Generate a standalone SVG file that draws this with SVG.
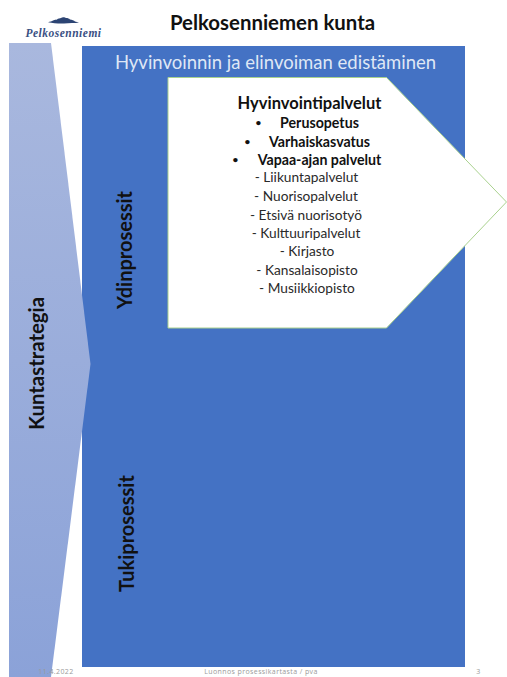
<svg xmlns="http://www.w3.org/2000/svg" width="507" height="677" viewBox="0 0 507 677">
<style>
text{font-family:Lato,"Liberation Sans",sans-serif;text-anchor:middle;fill:#111}
.b{font-weight:700}
.l{font-size:13.7px;fill:#2a2a2a}
.h{font-size:14.2px;font-weight:700}
.d{font-size:10px;font-weight:700}
.v{font-size:20px;font-weight:700}
.f{font-size:7px;fill:#9a9a9a;letter-spacing:.4px;font-family:"Open Sans",sans-serif}
</style>
<defs><linearGradient id="g" x1="0" y1="0" x2="0" y2="1"><stop offset="0" stop-color="#a9b8de"/><stop offset="1" stop-color="#8ba2d8"/></linearGradient></defs>
<rect width="507" height="677" fill="#fff"/>
<g id="logo">
<path d="M48 22.300C50 21.500 52 21.500 53 20.500C55 19.500 56 20 57 19.500C58 18 60 18.500 61 18C62 16.800 65 17 66 18C68 18 69 18.500 70 19.500C72 19.500 74 20.500 75 21.500C76 21.800 78 22 79 22.500C75 23.500 69 22.800 64 23.500C59 23.700 53 23.300 48 22.300Z" fill="#2c4473"/>
<text x="63.500" y="36.500" style="font-family:'Liberation Serif',serif;font-style:italic;font-weight:700;font-size:11.500px;letter-spacing:.5px;fill:#3a5083">Pelkosenniemi</text>
</g>
<g id="title"><text x="272.500" y="30" class="b" style="font-size:20.400px">Pelkosenniemen kunta</text></g>
<g id="ydin-tausta"><rect x="82" y="46" width="383" height="621" fill="#4472c4"/>
<text x="275.500" y="68.500" style="font-size:18.500px;fill:#dfe7f5">Hyvinvoinnin ja elinvoiman edistäminen</text></g>
<g id="kuntastrategia"><path d="M9 43H51L90.500 364L51 677H9Z" fill="url(#g)"/>
<text transform="translate(44 363.500) rotate(-90)" class="v" style="font-size:20.400px">Kuntastrategia</text></g>
<g id="ydinprosessit"><text transform="translate(132 250) rotate(-90)" class="v">Ydinprosessit</text></g>
<g id="tukiprosessit"><text transform="translate(134 533.500) rotate(-90)" class="v">Tukiprosessit</text></g>
<g id="hyvinvointipalvelut">
<path d="M168 77.500H386.500L506.500 202L386.500 328H168Z" fill="#fff" stroke="#a9d18e" stroke-width="1"/>
<text x="309.500" y="109" class="b" style="font-size:16.500px">Hyvinvointipalvelut</text>
<text x="319.500" y="128" class="h">Perusopetus</text><text x="258.500" y="126" class="d">•</text>
<text x="319.500" y="146.500" class="h">Varhaiskasvatus</text><text x="247.500" y="144.500" class="d">•</text>
<text x="319.500" y="164.500" class="h">Vapaa-ajan palvelut</text><text x="235.500" y="162.500" class="d">•</text>
<text x="306.500" y="182" class="l">- Liikuntapalvelut</text>
<text x="306" y="201" class="l">- Nuorisopalvelut</text>
<text x="306" y="219.500" class="l">- Etsivä nuorisotyö</text>
<text x="306" y="237.500" class="l">- Kulttuuripalvelut</text>
<text x="307" y="256" class="l">- Kirjasto</text>
<text x="307" y="274.500" class="l">- Kansalaisopisto</text>
<text x="307" y="292.500" class="l">- Musiikkiopisto</text>
</g>
<g id="footer">
<text x="56" y="674" class="f">11.4.2022</text>
<text x="261" y="674" class="f">Luonnos prosessikartasta / pva</text>
<text x="478.500" y="674" class="f">3</text>
</g>
</svg>
